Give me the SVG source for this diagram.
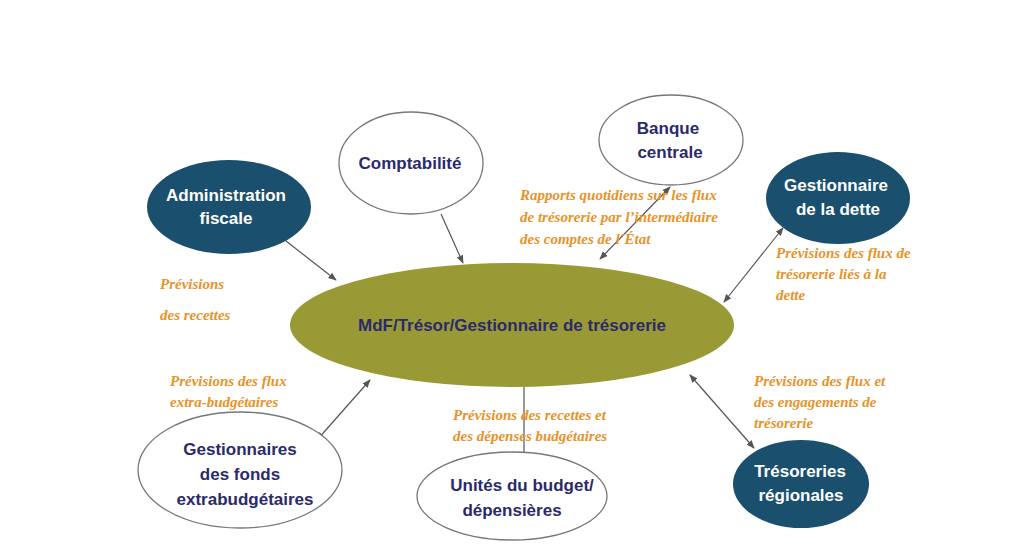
<svg xmlns="http://www.w3.org/2000/svg" width="1024" height="548" viewBox="0 0 1024 548">
<defs>
<marker id="ah" viewBox="0 0 10 10" refX="9" refY="5" markerWidth="7" markerHeight="7" orient="auto-start-reverse"><path d="M0,1 L10,5 L0,9 z" fill="#555"/></marker>
<style>
.w{fill:#fff;stroke:#777;stroke-width:1.3}
.t{fill:#1b4f6e}
.nl{font-family:"Liberation Sans",Arial,sans-serif;font-weight:bold;font-size:17px;fill:#2b2a6b;text-anchor:middle}
.nw{font-family:"Liberation Sans",Arial,sans-serif;font-weight:bold;font-size:17px;fill:#fff;text-anchor:middle}
.o{font-family:"Liberation Serif","Times New Roman",serif;font-weight:bold;font-style:italic;font-size:15px;fill:#e8922a}
.c{stroke:#555;stroke-width:1.2;fill:none}
</style>
</defs>
<rect width="1024" height="548" fill="#fff"/>
<g id="connectors">
<line class="c" x1="286" y1="241" x2="336" y2="280" marker-end="url(#ah)"/>
<line class="c" x1="441" y1="214" x2="463" y2="263" marker-end="url(#ah)"/>
<line class="c" x1="670" y1="187" x2="600" y2="259" marker-start="url(#ah)" marker-end="url(#ah)"/>
<line class="c" x1="783" y1="228" x2="724" y2="302" marker-start="url(#ah)" marker-end="url(#ah)"/>
<line class="c" x1="690" y1="375" x2="754" y2="448" marker-start="url(#ah)" marker-end="url(#ah)"/>
<line class="c" x1="524" y1="365" x2="524" y2="464" marker-start="url(#ah)" marker-end="url(#ah)"/>
<line class="c" x1="370" y1="380" x2="317" y2="440" marker-start="url(#ah)" marker-end="url(#ah)"/>
</g>
<g id="central"><ellipse cx="512" cy="325" rx="222" ry="62" fill="#999a35"/>
<text class="nl" x="512" y="331">MdF/Trésor/Gestionnaire de trésorerie</text></g>
<g id="admin"><ellipse class="t" cx="229" cy="207" rx="82" ry="47"/>
<text class="nw" x="226" y="201">Administration</text><text class="nw" x="226" y="224">fiscale</text></g>
<g id="compta"><ellipse class="w" cx="411" cy="163" rx="72" ry="51"/>
<text class="nl" x="410" y="169">Comptabilité</text></g>
<g id="banque"><ellipse class="w" cx="671" cy="140" rx="72" ry="45"/>
<text class="nl" x="668" y="134">Banque</text><text class="nl" x="670" y="158">centrale</text></g>
<g id="dette"><ellipse class="t" cx="838" cy="198" rx="72" ry="46"/>
<text class="nw" x="836" y="191">Gestionnaire</text><text class="nw" x="838" y="215">de la dette</text></g>
<g id="tresoreries"><ellipse class="t" cx="801" cy="484" rx="68" ry="44"/>
<text class="nw" x="800" y="477">Trésoreries</text><text class="nw" x="801" y="501">régionales</text></g>
<g id="unites"><ellipse class="w" cx="512" cy="496" rx="95" ry="44"/>
<text class="nl" x="522" y="491">Unités du budget/</text><text class="nl" x="512" y="516">dépensières</text></g>
<g id="fonds"><ellipse class="w" cx="240" cy="470" rx="102" ry="58"/>
<text class="nl" x="240" y="455">Gestionnaires</text><text class="nl" x="240" y="480">des fonds</text><text class="nl" x="245" y="505">extrabudgétaires</text></g>
<g id="labels">
<text class="o" font-size="22" x="160" y="289">Prévisions</text>
<text class="o" font-size="22" x="160" y="320">des recettes</text>
<text class="o" x="520" y="200">Rapports quotidiens sur les flux</text>
<text class="o" x="520" y="222">de trésorerie par l’intermédiaire</text>
<text class="o" x="520" y="244">des comptes de l´État</text>
<text class="o" x="776" y="258">Prévisions des flux de</text>
<text class="o" x="776" y="279">trésorerie liés à la</text>
<text class="o" x="776" y="300">dette</text>
<text class="o" x="754" y="386">Prévisions des flux et</text>
<text class="o" x="754" y="407">des engagements de</text>
<text class="o" x="754" y="428">trésorerie</text>
<text class="o" x="453" y="420">Prévisions des recettes et</text>
<text class="o" x="453" y="441">des dépenses budgétaires</text>
<text class="o" x="170" y="386">Prévisions des flux</text>
<text class="o" x="170" y="407">extra-budgétaires</text>
</g>
</svg>
